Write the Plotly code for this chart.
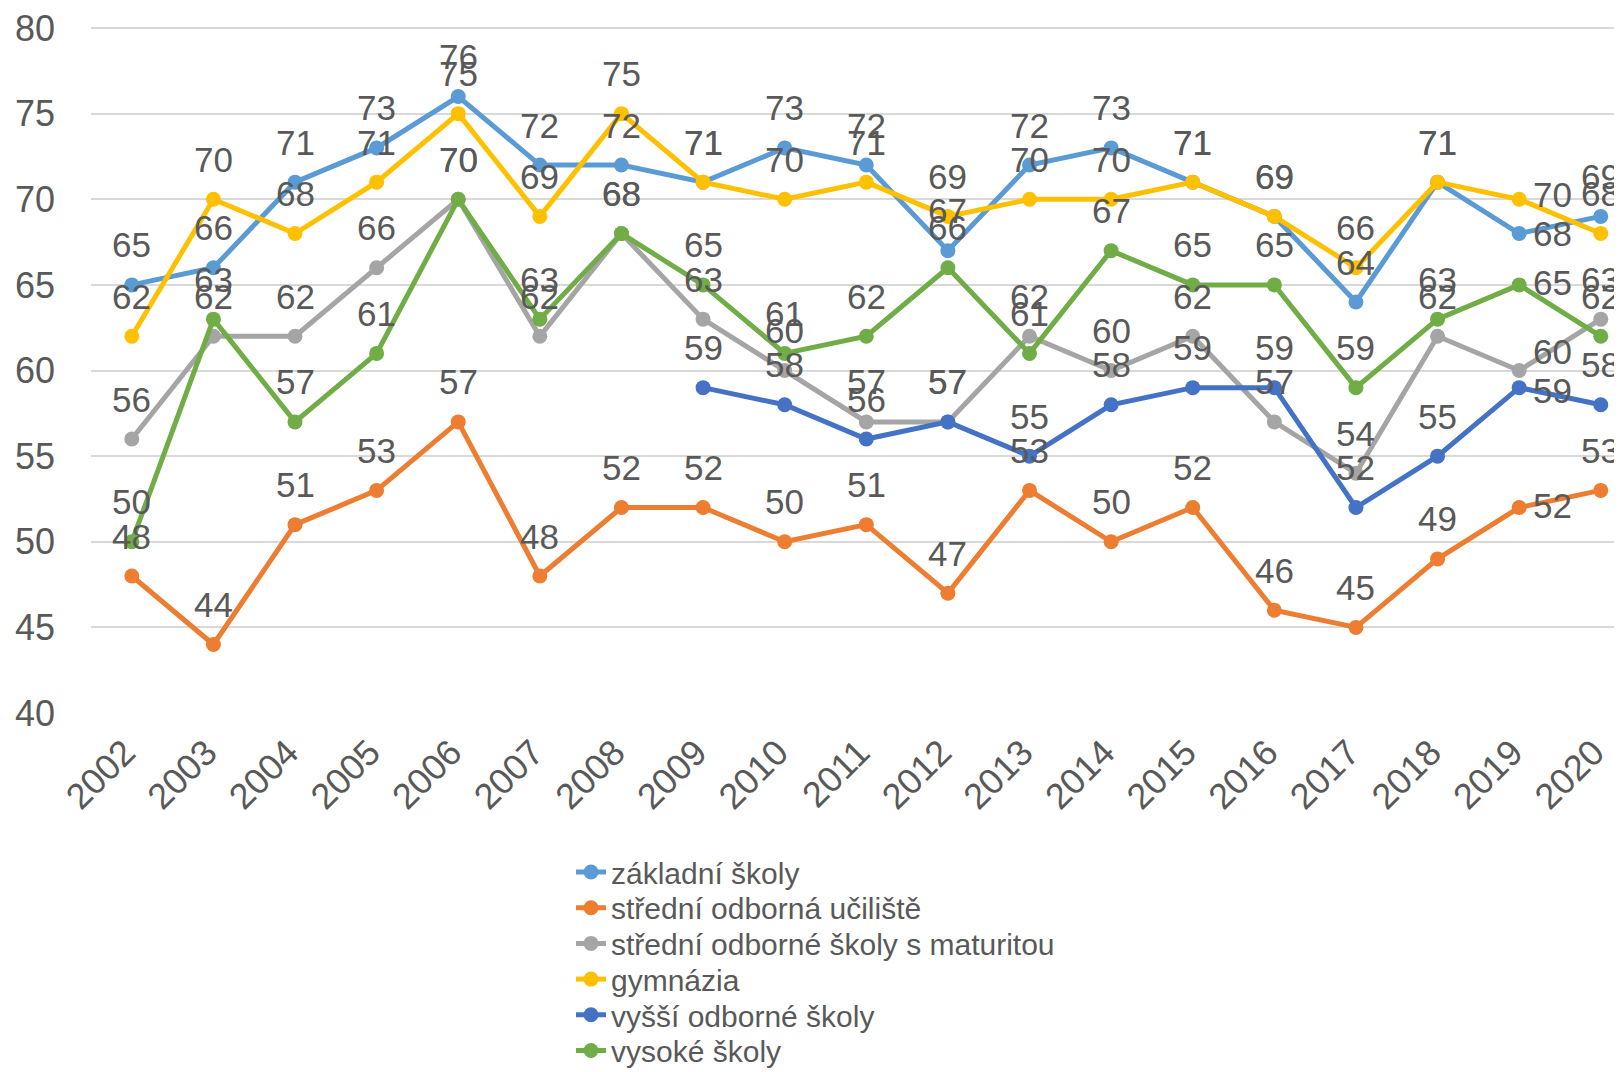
import plotly.graph_objects as go

years = ["2002", "2003", "2004", "2005", "2006", "2007", "2008", "2009", "2010", "2011",
         "2012", "2013", "2014", "2015", "2016", "2017", "2018", "2019", "2020"]

zakladni = [65, 66, 71, 73, 76, 72, 72, 71, 73, 72, 67, 72, 73, 71, 69, 64, 71, 68, 69]
sou = [48, 44, 51, 53, 57, 48, 52, 52, 50, 51, 47, 53, 50, 52, 46, 45, 49, 52, 53]
sos_mat = [56, 62, 62, 66, 70, 62, 68, 63, 60, 57, 57, 62, 60, 62, 57, 54, 62, 60, 63]
gymnazia = [62, 70, 68, 71, 75, 69, 75, 71, 70, 71, 69, 70, 70, 71, 69, 66, 71, 70, 68]
vos = [None, None, None, None, None, None, None, 59, 58, 56, 57, 55, 58, 59, 59, 52, 55, 59, 58]
vs = [50, 63, 57, 61, 70, 63, 68, 65, 61, 62, 66, 61, 67, 65, 65, 59, 63, 65, 62]

series_names = ["základní školy", "střední odborná učiliště", "střední odborné školy s maturitou",
                "gymnázia", "vyšší odborné školy", "vysoké školy"]
series_values = [zakladni, sou, sos_mat, gymnazia, vos, vs]
colors = ["#5B9BD5", "#ED7D31", "#A5A5A5", "#FFC000", "#4472C4", "#70AD47"]
# label shift for 2019 (placed to the right of the point in the original)
shift_2019 = [0, 2, 19, 5, -3, 2]

FONT = "Liberation Sans, Arial, sans-serif"
TXT = "#595959"
# the page body adds an 8px margin on the top and left
W, H = 1614, 1064

legend_ids = ["legend", "legend2", "legend3", "legend4", "legend5", "legend6"]

fig = go.Figure()
for name, vals, col, lid in zip(series_names, series_values, colors, legend_ids):
    fig.add_trace(go.Scatter(
        x=years, y=vals, name=name, mode="lines+markers",
        line=dict(color=col, width=5),
        marker=dict(color=col, size=15),
        connectgaps=False, legend=lid,
    ))

annotations = []
for i, vals in enumerate(series_values):
    for j, (yr, v) in enumerate(zip(years, vals)):
        if v is None:
            continue
        if yr == "2019":
            xs, ys = 33, shift_2019[i]
        else:
            xs, ys = 0, 40
        annotations.append(dict(
            x=j, y=v, xref="x", yref="y", text=str(v), showarrow=False,
            xshift=xs, yshift=ys,
            font=dict(family=FONT, size=35, color=TXT),
        ))

legend_layout = {}
row0, row_gap = 864, 35.7
for k, lid in enumerate(legend_ids):
    legend_layout[lid] = dict(
        xref="container", yref="container",
        x=563 / W, xanchor="left",
        y=1 - (row0 + k * row_gap) / H, yanchor="middle",
        font=dict(family=FONT, size=30, color=TXT),
        itemwidth=30, bgcolor="rgba(0,0,0,0)",
    )

fig.update_layout(
    width=W, height=H,
    margin=dict(l=83, r=0, t=18, b=359, autoexpand=False),
    paper_bgcolor="white", plot_bgcolor="white",
    font=dict(family=FONT, color=TXT),
    annotations=annotations,
    showlegend=True,
    xaxis=dict(
        type="category", range=[-0.5, 18.26], automargin=False,
        tickangle=-45, tickfont=dict(family=FONT, size=36, color=TXT),
        showgrid=False, showline=False, zeroline=False, ticks="",
        ticklabelstandoff=10, ticklabelshift=-7, ticklabeloverflow="allow",
    ),
    yaxis=dict(
        range=[40, 80.12], dtick=5, tick0=40, automargin=False,
        tickfont=dict(family=FONT, size=36, color=TXT),
        showgrid=True, gridcolor="#D9D9D9", gridwidth=2,
        showline=False, zeroline=False, ticks="",
        ticklabelstandoff=35, ticklabeloverflow="allow",
    ),
    **legend_layout,
)

fig.write_html("out.html")
